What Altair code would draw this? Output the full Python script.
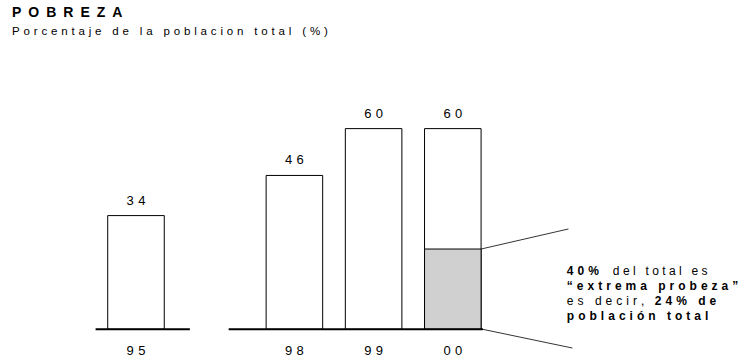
import altair as alt
import pandas as pd

# ---- data -------------------------------------------------------------
years = ["95", "98", "99", "00"]
slots = [0, 2, 3, 4]              # 96 and 97 are not shown: one empty slot
poverty = [34, 46, 60, 60]        # % of total population
extreme_year = "00"
extreme_poverty = 24              # % of total population in extreme poverty

title_text = "POBREZA"
subtitle_text = "Porcentaje de la poblacion total (%)"

# ---- styling / layout -------------------------------------------------
FONT = "Liberation Sans"
WIDE = "\u2002"          # en space: letter spacing of the title
GAP = "\u2004"           # three-per-em space: letter spacing of labels
NARROW = "\u2008"        # punctuation space: tighter letter spacing


def spaced(s, gap=GAP):
    return gap.join(s)


HALF = 0.357                                  # half bar width in slot units
X_DOMAIN = [-1.717, 7.689]
Y_DOMAIN = [-8.58, 85.0]
AXIS_SPANS = [(-0.51, 0.68), (1.17, 4.38)]    # broken baseline
NOTE_X, NOTE_Y = 5.44, 16.1                   # anchor of the side note

xs = alt.Scale(domain=X_DOMAIN, nice=False, zero=False)
ys = alt.Scale(domain=Y_DOMAIN, nice=False, zero=False)

bars = pd.DataFrame({
    "year": years,
    "slot": slots,
    "value": poverty,
})
bars["left"] = bars["slot"] - HALF
bars["right"] = bars["slot"] + HALF
bars["base"] = 0
bars["label"] = [spaced(str(v)) for v in poverty]
bars["year_label"] = [spaced(y) for y in years]

ext_slot = slots[years.index(extreme_year)]
extreme = pd.DataFrame({
    "left": [ext_slot - HALF], "right": [ext_slot + HALF],
    "base": [0], "value": [extreme_poverty],
})

axis_df = pd.DataFrame({"x": [a for a, _ in AXIS_SPANS],
                        "x2": [b for _, b in AXIS_SPANS],
                        "y": [0, 0]})

leaders = pd.DataFrame({
    "x": [ext_slot + HALF, ext_slot + HALF + 0.02],
    "y": [extreme_poverty, 0],
    "x2": [5.46, 5.51],
    "y2": [30.0, -5.6],
})

X = lambda f: alt.X(f, scale=xs, axis=None)
Y = lambda f: alt.Y(f, scale=ys, axis=None)

white_bars = alt.Chart(bars).mark_rect(
    fill="white", stroke="black", strokeWidth=1
).encode(x=X("left:Q"), x2="right:Q", y=Y("value:Q"), y2="base:Q")

grey_part = alt.Chart(extreme).mark_rect(
    fill="#d0d0d0", stroke="black", strokeWidth=1
).encode(x=X("left:Q"), x2="right:Q", y=Y("value:Q"), y2="base:Q")

baseline = alt.Chart(axis_df).mark_rule(
    color="black", strokeWidth=2
).encode(x=X("x:Q"), x2="x2:Q", y=Y("y:Q"))

leader_lines = alt.Chart(leaders).mark_rule(
    color="black", strokeWidth=0.8
).encode(x=X("x:Q"), x2="x2:Q", y=Y("y:Q"), y2="y2:Q")

value_labels = alt.Chart(bars).mark_text(
    font=FONT, fontSize=13, color="black", align="center",
    baseline="alphabetic", dy=-11
).encode(x=X("slot:Q"), y=Y("value:Q"), text="label:N")

year_labels = alt.Chart(bars).mark_text(
    font=FONT, fontSize=13, color="black", align="center",
    baseline="alphabetic", dy=26
).encode(x=X("slot:Q"), y=Y("base:Q"), text="year_label:N")

# side note: (text, bold, line, horizontal offset in px, letter gap)
note_parts = [
    ("40%", True, 0, 0, GAP),
    ("del total es", False, 0, 46, NARROW),
    ("\u201cextrema probeza\u201d", True, 1, 0, GAP),
    ("es decir,", False, 2, 0, GAP),
    ("24% de", True, 2, 88, GAP),
    ("población total", True, 3, 0, GAP),
]
LINE_H = 15

anchor = pd.DataFrame({"x": [NOTE_X], "y": [NOTE_Y]})
note_layers = []
for text, bold, line, dx, gap in note_parts:
    note_layers.append(
        alt.Chart(anchor).mark_text(
            font=FONT, fontSize=12, color="black", align="left",
            baseline="alphabetic", fontWeight="bold" if bold else "normal",
            dx=dx, dy=line * LINE_H, text=spaced(text, gap)
        ).encode(x=X("x:Q"), y=Y("y:Q"))
    )

chart = alt.layer(
    white_bars, grey_part, baseline, leader_lines,
    value_labels, year_labels, *note_layers
).properties(
    width=745, height=313,
    padding={"left": 0, "right": 0, "top": 45, "bottom": 0},
    autosize=alt.AutoSizeParams(type="none"),
    title=alt.TitleParams(
        text=spaced(title_text, WIDE),
        subtitle=spaced(subtitle_text),
        anchor="start", frame="group", orient="top",
        dx=12, offset=8,
        font=FONT, fontSize=14, fontWeight="bold", color="black",
        subtitleFont=FONT, subtitleFontSize=11.5, subtitleColor="black",
        subtitlePadding=6,
    ),
).configure_view(stroke=None)

chart.save("out.html", embed_options={"renderer": "svg", "actions": False})
